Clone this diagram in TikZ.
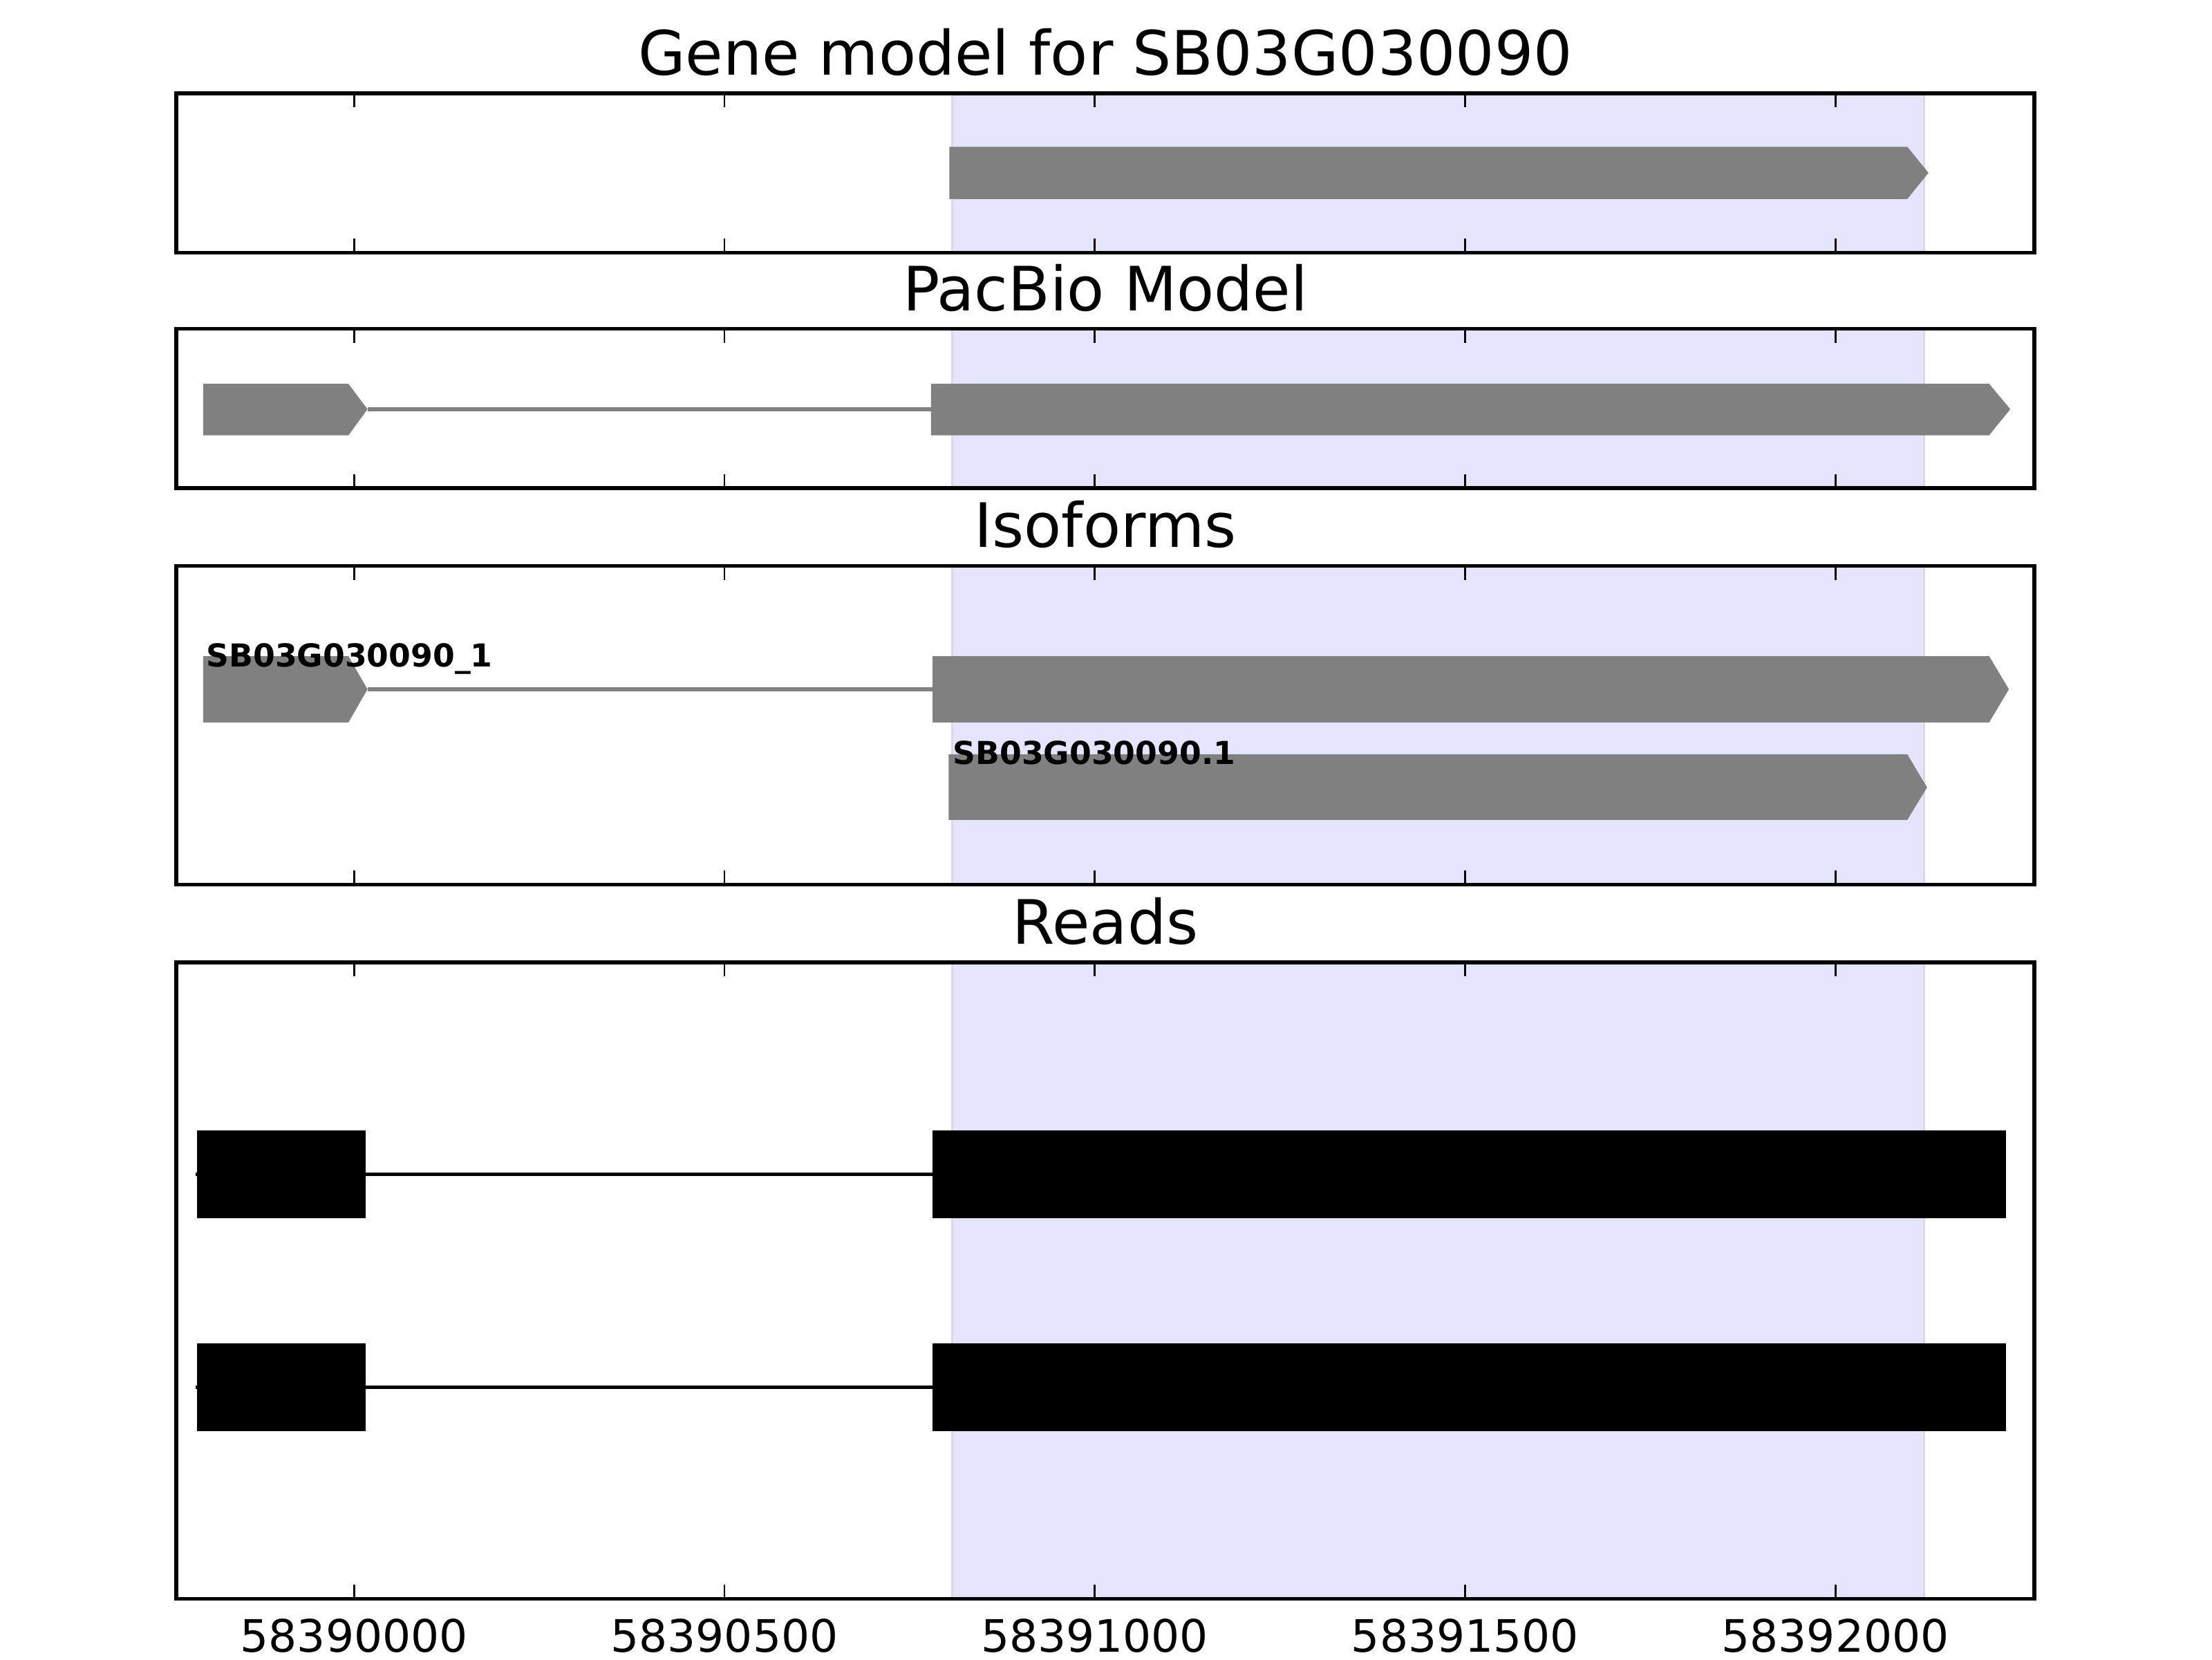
\documentclass[tikz,border=0pt]{standalone}
\usepackage{fontspec}
\setmainfont{DejaVu Sans}
\usepackage{tikz}
\usetikzlibrary{positioning,calc}

\definecolor{spanblue}{RGB}{228,228,253}
\definecolor{spanedge}{RGB}{216,216,230}
\definecolor{exongray}{RGB}{128,128,128}

\begin{document}
\begin{tikzpicture}[x=0.010204cm,y=-0.010204cm,
  frame/.style={line width=0.8pt},
  tck/.style={line width=0.4pt},
  exon/.style={fill=exongray,draw=none},
  intron/.style={draw=exongray,line width=0.75pt},
  rd/.style={fill=black,draw=none},
  rdline/.style={draw=black,line width=0.75pt},
  ttl/.style={font=\fontsize{12.6}{15}\selectfont,anchor=base,inner sep=0pt},
  tcklbl/.style={font=\fontsize{9.2}{11}\selectfont,anchor=base,inner sep=0pt},
  iso/.style={font=\fontsize{6.5}{8}\selectfont\bfseries,anchor=base west,inner sep=0pt}]
  \useasboundingbox (0,0) rectangle (1568,1176);

  % highlighted region
  \foreach \t/\b in {66/179,233/346,401/627,682/1133}
    \draw[fill=spanblue,draw=spanedge,line width=0.4pt] (675,\t) rectangle (1364,\b);

  % gene model
  \draw[exon] (673,104) -- (1352,104) -- (1367,122.5) -- (1352,141) -- (673,141) -- cycle;

  % pacbio model
  \coordinate (pbA) at (260.5,290);
  \coordinate (pbB) at (660,290);
  \draw[exon] (144,272) -- (247,272) -- (pbA) -- (247,308.5) -- (144,308.5) -- cycle;
  \draw[exon] (pbB) |- (1410,272) -- (1425,290) -- (1410,308.5) -| (pbB);
  \draw[intron] (pbA) -- (pbB);

  % isoforms
  \coordinate (isA) at (260.5,488.5);
  \coordinate (isB) at (661,488.5);
  \draw[exon] (144,465) -- (247,465) -- (isA) -- (247,512) -- (144,512) -- cycle;
  \draw[exon] (isB) |- (1410,465) -- (1424,488.5) -- (1410,512) -| (isB);
  \draw[intron] (isA) -- (isB);
  \draw[exon] (672.5,534.6) -- (1352,534.6) -- (1366,558) -- (1352,581.1) -- (672.5,581.1) -- cycle;
  \node[iso] (iso1) at (145.6,472.4) {SB03G030090\_1};
  \node[iso] (iso2) at (674.8,541.8) {SB03G030090.1};

  % reads
  \coordinate (rA) at (138.5,832.3);
  \coordinate (rB) at (1422,832.3);
  \coordinate (sA) at (138.5,983.2);
  \coordinate (sB) at (1422,983.2);
  \draw[rdline] (rA) -- (rB);
  \draw[rdline] (sA) -- (sB);
  \draw[rd] (139.7,801) rectangle (259.4,863.5);
  \draw[rd] (661,801) rectangle (1422,863.5);
  \draw[rd] (139.7,952) rectangle (259.4,1014.5);
  \draw[rd] (661,952) rectangle (1422,1014.5);

  % ticks and frames
  \foreach \t/\b in {66/179,233/346,401/627,682/1133} {
    \foreach \x in {251,513.5,776,1038.5,1301} {
      \draw[tck] (\x,\t) -- ++(0,10);
      \draw[tck] (\x,\b) -- ++(0,-10);
    }
    \draw[frame] (125,\t) rectangle (1442,\b);
  }

  \node[ttl] (tgene) at (783.5,53) {Gene model for SB03G030090};
  \node[ttl] (tpacbio) at (783.5,220) {PacBio Model};
  \node[ttl] (tiso) at (783.5,388) {Isoforms};
  \node[ttl] (treads) at (783.5,669) {Reads};

  \node[tcklbl] (x0) at (251,1171) {58390000};
  \node[tcklbl] (x1) at (513.5,1171) {58390500};
  \node[tcklbl] (x2) at (776,1171) {58391000};
  \node[tcklbl] (x3) at (1038.5,1171) {58391500};
  \node[tcklbl] (x4) at (1301,1171) {58392000};
\end{tikzpicture}
\end{document}
